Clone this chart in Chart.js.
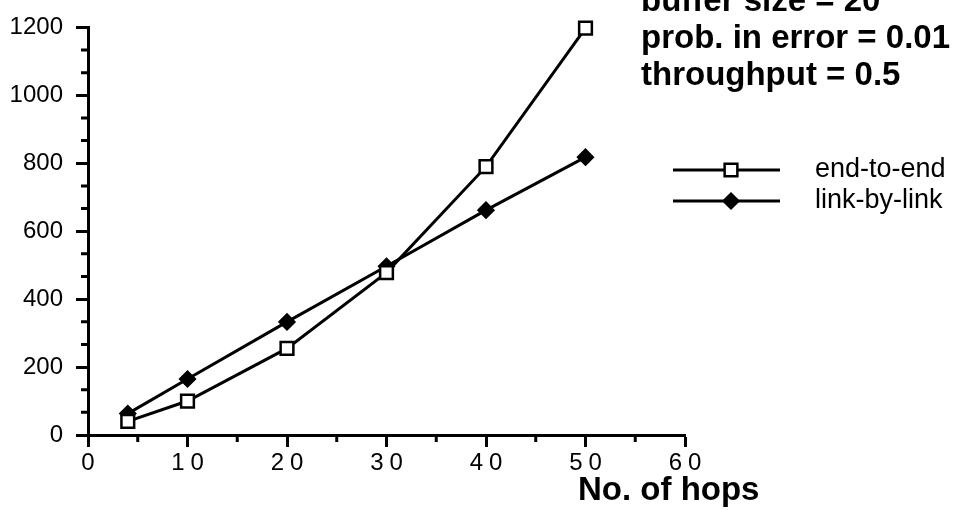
<!DOCTYPE html>
<html>
<head>
<meta charset="utf-8">
<script src="https://cdn.jsdelivr.net/npm/chart.js@4.4.1/dist/chart.umd.min.js"></script>
<style>
html, body { margin: 0; padding: 0; background: #fff; }
</style>
</head>
<body>
<canvas id="mainChart" width="956" height="510"></canvas>
<script>
// values
var hops = [4, 10, 20, 30, 40, 50];
var endToEnd = [40, 100, 255, 478, 790, 1198];
var linkByLink = [63, 165, 333, 497, 662, 818];
var seriesNames = ['end-to-end', 'link-by-link'];
var xTicks = [0, 10, 20, 30, 40, 50, 60];
var yTicks = [0, 200, 400, 600, 800, 1000, 1200];
var notes = ['buffer size = 20', 'prob. in error = 0.01', 'throughput = 0.5'];
var xTitle = 'No. of hops';

var FONT = '"Liberation Sans", Arial, Helvetica, sans-serif';

function toPoints(xs, ys) {
    return xs.map(function (v, i) { return { x: v, y: ys[i] }; });
}

// draw a marker like the dataset uses
function marker(ctx, ds, px, py) {
    ctx.save();
    ctx.lineWidth = ds.pointBorderWidth;
    ctx.strokeStyle = '#000';
    ctx.fillStyle = ds.pointBackgroundColor;
    ctx.beginPath();
    if (ds.pointStyle === 'rect') {
        var s = Math.SQRT1_2 * ds.pointRadius;
        ctx.rect(px - s, py - s, 2 * s, 2 * s);
    } else {
        var r = ds.pointRadius;
        ctx.moveTo(px, py - r);
        ctx.lineTo(px + r, py);
        ctx.lineTo(px, py + r);
        ctx.lineTo(px - r, py);
        ctx.closePath();
    }
    ctx.fill();
    ctx.stroke();
    ctx.restore();
}

/**
 * minor ticks, spaced x labels, legend, notes and axis title
 */
var decor = {
    id: 'decor',
    afterDraw: function (chart) {
        var ctx = chart.ctx;
        var x = chart.scales.x, y = chart.scales.y;
        ctx.save();
        ctx.strokeStyle = '#000';
        ctx.lineWidth = 3;

        // minor ticks: 3 divisions on y, 2 on x
        ctx.beginPath();
        for (var i = 0; i < yTicks.length - 1; i++) {
            for (var k = 1; k < 3; k++) {
                var py = y.getPixelForValue(yTicks[i] + (yTicks[i + 1] - yTicks[i]) * k / 3);
                ctx.moveTo(x.left - 7, py);
                ctx.lineTo(x.left, py);
            }
        }
        for (i = 0; i < xTicks.length - 1; i++) {
            var px = x.getPixelForValue((xTicks[i] + xTicks[i + 1]) / 2);
            ctx.moveTo(px, y.bottom);
            ctx.lineTo(px, y.bottom + 7);
        }
        ctx.stroke();

        // x tick labels, with the wide spacing of the original
        ctx.fillStyle = '#000';
        ctx.font = '24px ' + FONT;
        ctx.letterSpacing = '6px';
        ctx.textAlign = 'center';
        ctx.textBaseline = 'middle';
        xTicks.forEach(function (v) {
            ctx.fillText(String(v), x.getPixelForValue(v) + 3, 463);
        });
        ctx.letterSpacing = '0px';

        // legend
        chart.data.datasets.forEach(function (ds, j) {
            var ly = 170 + j * 31;
            ctx.beginPath();
            ctx.moveTo(673, ly);
            ctx.lineTo(780, ly);
            ctx.stroke();
            marker(ctx, ds, 731, ly);
            ctx.font = '27px ' + FONT;
            ctx.textAlign = 'left';
            ctx.textBaseline = 'middle';
            ctx.fillText(ds.label, 815, ly);
        });

        // notes, top right
        ctx.font = 'bold 33px ' + FONT;
        ctx.textBaseline = 'alphabetic';
        notes.forEach(function (t, j) {
            ctx.fillText(t, 641, 11 + j * 37);
        });

        // axis title
        ctx.font = 'bold 33px ' + FONT;
        ctx.fillText(xTitle, 578, 500);
        ctx.restore();
    }
};

var ctx = document.getElementById('mainChart').getContext('2d');
var chart = new Chart(ctx, {
    type: 'line',
    data: {
        datasets: [{
            label: seriesNames[0],
            data: toPoints(hops, endToEnd),
            borderColor: '#000',
            borderWidth: 3,
            pointStyle: 'rect',
            pointRadius: 9,
            pointBorderWidth: 2.5,
            pointBackgroundColor: '#fff',
            pointBorderColor: '#000',
            clip: false
        }, {
            label: seriesNames[1],
            data: toPoints(hops, linkByLink),
            borderColor: '#000',
            borderWidth: 3,
            pointStyle: 'rectRot',
            pointRadius: 8,
            pointBorderWidth: 1.5,
            pointBackgroundColor: '#000',
            pointBorderColor: '#000',
            clip: false
        }]
    },
    options: {
        responsive: false,
        animation: false,
        devicePixelRatio: 1,
        layout: { padding: { left: 0, right: 271, top: 21, bottom: 0 } },
        plugins: { legend: { display: false }, tooltip: { enabled: false } },
        scales: {
            x: {
                type: 'linear',
                min: 0,
                max: 60,
                afterBuildTicks: function (s) { s.ticks = xTicks.map(function (v) { return { value: v }; }); },
                afterFit: function (s) { s.height = 75; },
                ticks: { display: false },
                grid: { drawOnChartArea: false, drawTicks: true, tickLength: 12, tickWidth: 3, tickColor: '#000' },
                border: { color: '#000', width: 3 }
            },
            y: {
                min: 0,
                max: 1200,
                afterBuildTicks: function (s) { s.ticks = yTicks.map(function (v) { return { value: v }; }); },
                afterFit: function (s) { s.width = 88; },
                ticks: {
                    color: '#000',
                    padding: 13,
                    font: { family: FONT, size: 24 },
                    callback: function (v) { return String(v); }
                },
                grid: { drawOnChartArea: false, drawTicks: true, tickLength: 12, tickWidth: 3, tickColor: '#000' },
                border: { color: '#000', width: 3 }
            }
        }
    },
    plugins: [decor]
});
</script>
</body>
</html>
